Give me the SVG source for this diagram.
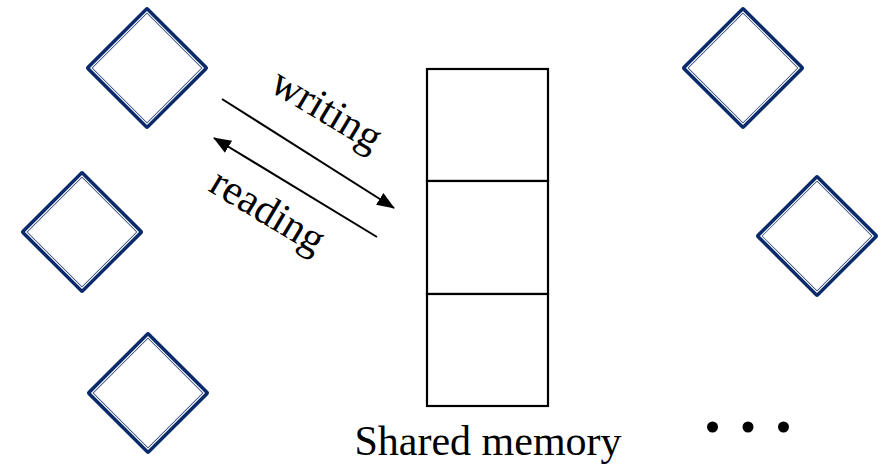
<svg xmlns="http://www.w3.org/2000/svg" width="887" height="465" viewBox="0 0 887 465">
  <style>
    .outer { fill: #ffffff; stroke: #0b2a6b; stroke-width: 5.4; stroke-linejoin: round; }
    .gap { fill: none; stroke: #ffffff; stroke-width: 1.2; stroke-linejoin: miter; }
    .cell { fill: #ffffff; stroke: #000000; stroke-width: 2.2; }
    .lbl { font-family: "Liberation Serif", "Times New Roman", serif; font-size: 42px; fill: #000000; }
    .conn { stroke: #000000; stroke-width: 2; fill: none; }
  </style>
  <defs>
    <!-- double-line diamond: thick navy band with a thin white gap inside -->
    <g id="diamond">
      <path class="outer" d="M0,-58.2 L58.2,0 L0,58.2 L-58.2,0 Z"/>
      <path class="gap" d="M0,-56.2 L56.2,0 L0,56.2 L-56.2,0 Z"/>
    </g>
    <marker id="head" viewBox="0 0 18 14" refX="17" refY="7" markerWidth="18" markerHeight="14" markerUnits="userSpaceOnUse" orient="auto">
      <path d="M0,0 L18,7 L0,14 Z" fill="#000000"/>
    </marker>
  </defs>

  <rect width="887" height="465" fill="#ffffff"/>

  <!-- processes -->
  <g id="proc-left-top"><use href="#diamond" x="147" y="68"/></g>
  <g id="proc-left-mid"><use href="#diamond" x="82" y="232"/></g>
  <g id="proc-left-bottom"><use href="#diamond" x="148" y="393"/></g>
  <g id="proc-right-top"><use href="#diamond" x="743" y="68"/></g>
  <g id="proc-right-mid"><use href="#diamond" x="817" y="236"/></g>

  <!-- shared memory block -->
  <g id="shared-memory">
    <rect class="cell" x="427" y="69" width="121" height="112"/>
    <rect class="cell" x="427" y="181" width="121" height="113"/>
    <rect class="cell" x="427" y="294" width="121" height="112"/>
    <text class="lbl" x="488" y="455" text-anchor="middle">Shared memory</text>
  </g>

  <!-- more processes -->
  <g id="ellipsis">
    <circle cx="712.5" cy="427" r="5.5" fill="#000000"/>
    <circle cx="748" cy="427" r="5.5" fill="#000000"/>
    <circle cx="783.5" cy="427" r="5.5" fill="#000000"/>
  </g>

  <!-- connectors -->
  <g id="connectors">
    <line class="conn" x1="222" y1="99" x2="394" y2="208" marker-end="url(#head)"/>
    <line class="conn" x1="377" y1="237" x2="214" y2="138" marker-end="url(#head)"/>
    <text class="lbl" x="268" y="90" transform="rotate(31 268 90)">writing</text>
    <text class="lbl" x="207" y="190" transform="rotate(31 207 190)">reading</text>
  </g>
</svg>
